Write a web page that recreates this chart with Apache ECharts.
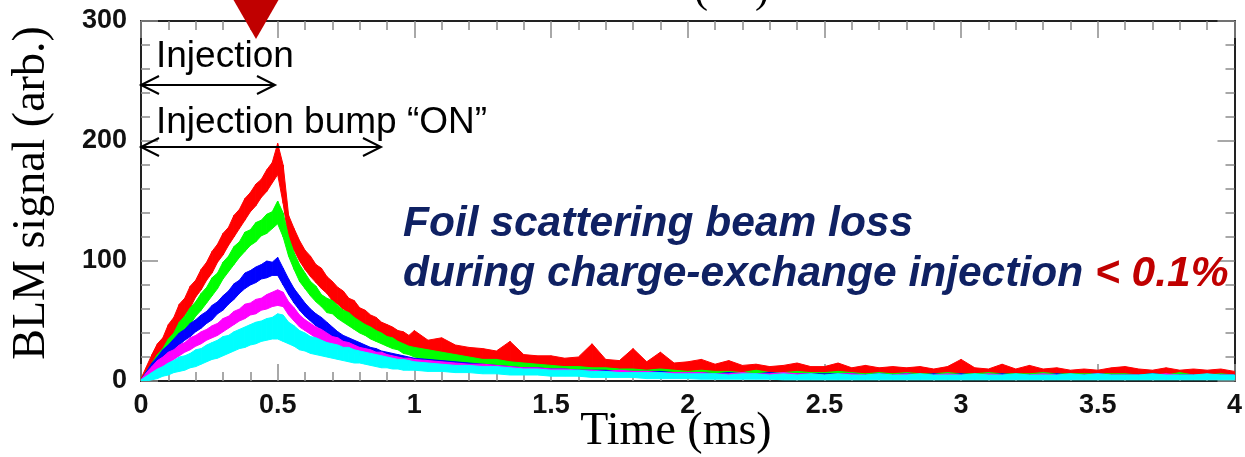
<!DOCTYPE html>
<html><head><meta charset="utf-8">
<script src="https://cdn.jsdelivr.net/npm/echarts@6/dist/echarts.min.js"></script>
<style>html,body{margin:0;padding:0;background:#fff}#c{width:1245px;height:457px}</style>
</head><body><div id="c"></div>
<script>
// sample times (ms)
const time = [0,0.02,0.04,0.06,0.08,0.1,0.12,0.14,0.16,0.18,0.2,0.22,0.24,0.26,0.28,0.3,0.32,0.34,0.36,0.38,0.4,0.42,0.44,0.46,0.48,0.5,0.52,0.54,0.56,0.58,0.6,0.62,0.64,0.66,0.68,0.7,0.72,0.74,0.76,0.78,0.8,0.82,0.84,0.86,0.88,0.9,0.92,0.94,0.96,0.98,1.0,
1.05,1.1,1.15,1.2,1.25,1.3,1.35,1.4,1.45,1.5,1.55,1.6,1.65,1.7,1.75,1.8,1.85,1.9,1.95,2.0,
2.05,2.1,2.15,2.2,2.25,2.3,2.35,2.4,2.45,2.5,2.55,2.6,2.65,2.7,2.75,2.8,2.85,2.9,2.95,3.0,
3.05,3.1,3.15,3.2,3.25,3.3,3.35,3.4,3.45,3.5,3.55,3.6,3.65,3.7,3.75,3.8,3.85,3.9,3.95,4.0];

// upper / lower envelopes of each noisy BLM trace
const redHi = [2,12,22,31,36,47,53,64,69,79,84,93,99,108,114,123,128,138,143,152,157,164,168,176,182,198,180,138,127,117,109,104,97,94,87,83,78,75,69,67,61,59,55,53,49,47,45,42,41,38,42,
34,36,30,28,27,25,33,22,21,21,19,20,31,18,17,27,16,24,15,16,
18,14,17,13,14,12,13,15,12,12,15,11,13,11,12,11,12,10,12,18,
11,10,14,10,13,10,11,9,10,9,11,12,10,9,11,9,10,9,10,8];
const redLo = [0,3,10,17,25,31,40,47,55,61,70,76,84,90,99,105,113,120,127,134,141,146,153,158,165,172,148,118,109,100,93,87,82,77,73,67,64,60,56,52,49,45,43,40,37,35,33,31,29,27,25,
22,20,19,16,16,14,13,12,11,11,10,10,9,9,9,8,8,7,7,6,
6,6,6,5,5,5,5,5,5,5,5,5,5,4,4,4,4,4,4,4,
4,4,4,4,4,4,4,4,4,3.5,4,4,3.5,3.5,3.5,3.5,3.5,3.5,3.5,3];

const greenHi = [1,8,15,22,27,35,40,49,54,61,66,73,78,86,90,99,104,112,116,124,126,132,134,139,141,150,140,120,107,97,90,83,79,72,69,67,63,59,57,53,50,47,45,42,40,37,36,33,31,29,28,
26,24,22,20,18,18,16,15,14,13,12,12,11,11,10,10,9,10,9,8,
9,8,8,7,9,7,7,8,7,7,8,7,6,7,6,7,6,6,7,6,
6,7,6,6,6,7,6,6,6,6,6,6,5,6,5,7,5,5,6,5];
const greenLo = [0,1,6,11,17,22,29,35,42,47,54,59,65,71,77,85,91,97,103,108,113,116,121,123,127,131,120,104,93,83,77,71,66,62,57,56,52,49,46,43,40,38,35,33,31,29,27,26,23,22,20,
18,16,15,13,12,11,10,9,8,8,7,7,6,6,6,5,5,5,5,5,
4,4,4,4,4,4,3,3,3,3,3,3,3,3,3,3,3,3,3,3,
3,3,3,3,3,3,3,3,2.5,2.5,2.5,2.5,2.5,2.5,2.5,2.5,2.5,2.5,2.5,2.5];

const blueHi = [1,8,15,20,26,30,35,40,43,48,51,55,58,63,66,71,75,81,84,90,92,95,97,100,99,103,94,85,77,71,65,60,56,53,49,45,41,38,36,34,32,30,28,27,25,24,23,22,21,20,19,
18,17,16,15,14,13,12,11,11,10,10,9,9,9,8,8,8,8,7,7,
7,6,7,6,6,7,6,6,6,6,6,6,5,6,5,6,5,6,5,6,
5,5,6,5,5,5,6,5,5,6,5,5,5,6,5,5,5,5,5,5];
const blueLo = [0,2,7,12,16,21,25,30,34,37,41,44,48,51,56,59,64,68,73,77,80,82,85,86,88,88,80,72,65,59,54,50,46,43,39,36,32,30,28,26,24,23,21,20,19,18,17,16,15,14,13,
12,11,10,9,8,8,7,7,6,6,5,5,5,4,4,4,4,4,4,3,
3,3,3,3,3,3,3,2.5,2.5,2.5,2.5,2.5,2.5,2.5,2.5,2.5,2.5,2.5,2,2,
2,2,2,2,2,2,2,2,2,2,2,2,2,2,2,2,2,2,2,2];

const magentaHi = [1,7,12,17,20,24,26,30,32,36,38,41,43,46,48,52,54,58,60,64,65,68,69,72,74,76,74,66,61,55,51,48,45,43,40,37,36,33,32,30,28,27,26,24,24,22,21,20,19,19,18,
17,16,15,14,14,13,12,11,11,10,10,9,9,8,9,8,8,7,7,7,
7,6,6,7,6,6,7,6,6,5,6,6,5,6,5,6,5,5,6,5,
5,6,5,5,5,6,5,5,5,6,5,5,5,5,6,5,5,5,5,5];
const magentaLo = [0,1,5,9,12,15,18,21,24,26,29,31,34,36,38,41,44,47,50,52,55,56,59,60,62,63,62,55,50,45,42,39,36,34,31,29,27,26,24,23,21,20,19,18,17,16,15,14,13,13,12,
11,10,10,9,8,8,7,7,6,6,5,5,5,5,4,4,4,4,4,3,
3,3,3,3,3,2.5,2.5,2.5,2.5,2.5,2.5,2.5,2.5,2.5,2,2,2,2,2,2,
2,2,2,2,2,2,2,2,2,2,2,2,2,2,2,2,2,2,2,2];

const cyanHi = [1,4,7,10,12,15,17,20,21,23,26,27,30,32,34,37,38,41,43,45,47,49,50,52,53,56,55,49,46,42,40,37,36,34,32,31,30,28,28,26,25,24,23,22,21,20,19,18,18,17,16,
15,14,13,13,12,12,11,10,10,9,9,9,8,8,7,7,7,7,6,6,
6,6,5,6,6,5,6,5,6,5,6,5,5,6,5,5,6,5,5,5,
6,5,5,6,5,5,5,6,5,6,5,5,5,6,5,5,5,6,5,5];
const cyanLo = [0,0,1,2,4,5,7,8,9,11,12,14,16,18,19,21,23,25,27,28,30,31,33,34,35,35,33,31,29,26,25,23,22,21,20,19,18,17,16,15,15,14,13,12,11,11,10,10,9,9,9,
8,8,7,7,6,6,5,5,5,4,4,4,3,3,3,3,2,2,2,2,
1.5,1.5,1.5,1.5,1.5,1.5,1,1,1,1,1,1,1,1,1,1,1,1,1,1,
1,1,1,1,1,1,1,1,1,1,1,1,1,1,1,1,1,1,1,1];

const xTickLabels = ['0','0.5','1','1.5','2','2.5','3','3.5','4'];
const yTickLabels = ['0','100','200','300'];

const traces = [
  {name:'red', color:'#ff0000', hi:redHi, lo:redLo},
  {name:'green', color:'#00ff00', hi:greenHi, lo:greenLo},
  {name:'blue', color:'#0000ff', hi:blueHi, lo:blueLo},
  {name:'magenta', color:'#ff00ff', hi:magentaHi, lo:magentaLo},
  {name:'cyan', color:'#00ffff', hi:cyanHi, lo:cyanLo}
];

// each trace: band between lo and hi envelope, drawn segment by segment through the axes
const series = traces.map(d => {
  const segs = [];
  for (let i = 0; i < time.length - 1; i++) {
    segs.push([time[i], d.lo[i], d.hi[i], time[i+1], d.lo[i+1], d.hi[i+1]]);
  }
  return {
    type:'custom', name:d.name, silent:true, clip:true,
    encode:{x:[0,3], y:[1,2,4,5]},
    data: segs,
    renderItem: function(params, api){
      const a = api.coord([api.value(0), api.value(1)]);
      const b = api.coord([api.value(0), api.value(2)]);
      const c = api.coord([api.value(3), api.value(5)]);
      const e = api.coord([api.value(3), api.value(4)]);
      return {type:'polygon', shape:{points:[a,b,c,e]},
        style:{fill:d.color, stroke:d.color, lineWidth:1}};
    }
  };
});

const tickLine = {color:'#8c8c8c', width:1.5};
const frameLine = {color:'#222', width:2};
const labelStyle = {fontSize:27, fontWeight:'bold', color:'#111', fontFamily:'"Liberation Sans", Arial, sans-serif'};

function xAx(pos, showLabel){
  return {type:'value', min:0, max:4, interval:0.5, position:pos,
    axisLine:{show:true, onZero:false, lineStyle:frameLine},
    axisTick:{show:true, inside:true, length:17, lineStyle:tickLine},
    minorTick:{show:true, splitNumber:5, length:9, lineStyle:tickLine},
    axisLabel:Object.assign({show:showLabel, margin:11, formatter:(v)=>xTickLabels[Math.round(v/0.5)]}, labelStyle),
    splitLine:{show:false}, minorSplitLine:{show:false}};
}
function yAx(pos, showLabel){
  return {type:'value', min:0, max:300, interval:100, position:pos,
    axisLine:{show:true, onZero:false, lineStyle:frameLine},
    axisTick:{show:true, inside:true, length:17, lineStyle:tickLine},
    minorTick:{show:true, splitNumber:5, length:9, lineStyle:tickLine},
    axisLabel:Object.assign({show:showLabel, margin:14, formatter:(v)=>yTickLabels[Math.round(v/100)]}, labelStyle),
    splitLine:{show:false}, minorSplitLine:{show:false}};
}

const sans = '"Liberation Sans", Arial, sans-serif';
const serif = '"Liberation Serif", "Times New Roman", serif';

const chart = echarts.init(document.getElementById('c'));
chart.setOption({
  animation:false,
  backgroundColor:'#fff',
  grid:{left:141, right:9, top:21, bottom:76, containLabel:false},
  xAxis:[xAx('bottom', true), xAx('top', false)],
  yAxis:[yAx('left', true), yAx('right', false)],
  series: series,
  graphic:[
    {type:'polygon', shape:{points:[[222,-20],[290,-20],[256,39]]}, style:{fill:'#c00000'}, z:100},
    {type:'text', x:694, y:-30, style:{text:'(', font:'42px '+serif, fill:'#000', verticalAlign:'top'}, z:100},
    {type:'text', x:755, y:-30, style:{text:')', font:'42px '+serif, fill:'#000', verticalAlign:'top'}, z:100},
    {type:'text', x:156, y:57, style:{text:'Injection', font:'37px '+sans, fill:'#000', verticalAlign:'middle'}, z:100},
    {type:'text', x:156, y:123, style:{text:'Injection bump \u201cON\u201d', font:'37px '+sans, fill:'#000', verticalAlign:'middle'}, z:100},
    {type:'line', shape:{x1:141,y1:85,x2:275,y2:85}, style:{stroke:'#000', lineWidth:2}, z:100},
    {type:'polyline', shape:{points:[[159,76],[141,85],[159,94]]}, style:{stroke:'#000', lineWidth:2, fill:null}, z:100},
    {type:'polyline', shape:{points:[[257,76],[275,85],[257,94]]}, style:{stroke:'#000', lineWidth:2, fill:null}, z:100},
    {type:'line', shape:{x1:141,y1:147,x2:381,y2:147}, style:{stroke:'#000', lineWidth:2}, z:100},
    {type:'polyline', shape:{points:[[159,138],[141,147],[159,156]]}, style:{stroke:'#000', lineWidth:2, fill:null}, z:100},
    {type:'polyline', shape:{points:[[363,138],[381,147],[363,156]]}, style:{stroke:'#000', lineWidth:2, fill:null}, z:100},
    {type:'text', x:403, y:224, style:{text:'Foil scattering beam loss', font:'italic bold 42.5px '+sans, fill:'#0f2163', verticalAlign:'middle'}, z:100},
    {type:'text', x:403, y:274, style:{text:'{a|during charge-exchange injection }{b|< 0.1%}', verticalAlign:'middle',
      rich:{a:{font:'italic bold 42.5px '+sans, fill:'#0f2163'}, b:{font:'italic bold 42.5px '+sans, fill:'#c00000'}}}, z:100},
    {type:'text', x:32, y:193, rotation:Math.PI/2, style:{text:'BLM signal (arb.)', font:'46px '+serif, fill:'#000', align:'center', verticalAlign:'middle'}, z:100},
    {type:'text', x:676, y:432, style:{text:'Time (ms)', font:'46px '+serif, fill:'#000', align:'center', verticalAlign:'middle'}, z:100}
  ]
});
</script></body></html>
